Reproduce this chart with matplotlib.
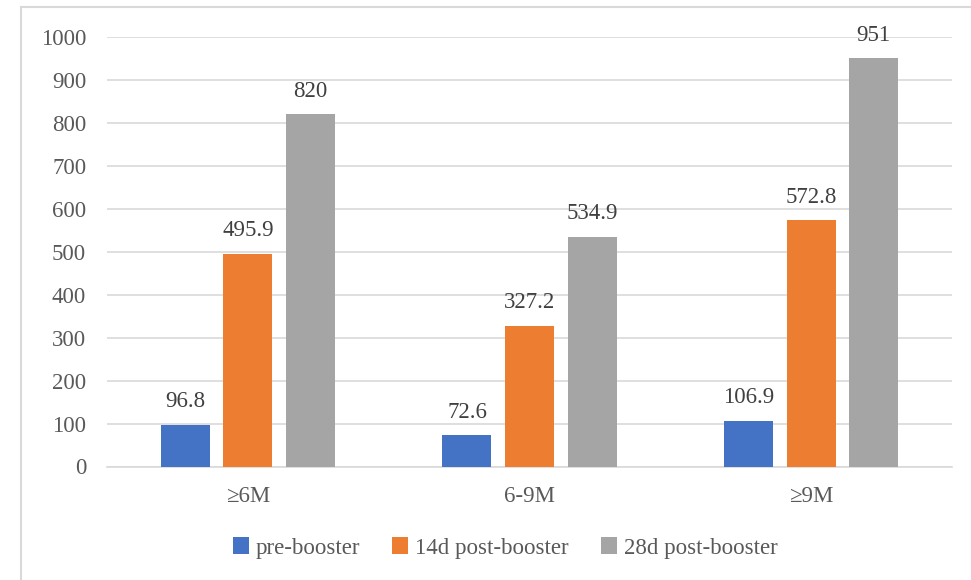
import matplotlib
matplotlib.use('Agg')
import matplotlib.pyplot as plt
import numpy as np

groups = ['≥6M', '6-9M', '≥9M']
series_names = ['pre-booster', '14d post-booster', '28d post-booster']
pre_booster = [96.8, 72.6, 106.9]
post_14d = [495.9, 327.2, 572.8]
post_28d = [820, 534.9, 951]
value_labels = [['96.8', '72.6', '106.9'],
                ['495.9', '327.2', '572.8'],
                ['820', '534.9', '951']]
colors = ['#4472c4', '#ed7d31', '#a5a5a5']

plt.rcParams['font.family'] = ['Liberation Serif', 'DejaVu Serif']

fig = plt.figure(figsize=(9.71, 5.80), dpi=100)
ax = fig.add_axes([107 / 971, 1 - 466.5 / 580, 845 / 971, (466.5 - 37) / 580])

x = np.arange(len(groups))
width = 0.174
step = 0.222
for i, (vals, name) in enumerate(zip([pre_booster, post_14d, post_28d], series_names)):
    pos = x + (i - 1) * step
    bars = ax.bar(pos, vals, width, color=colors[i], label=name, zorder=3)
    for b, txt in zip(bars, value_labels[i]):
        ax.annotate(txt, (b.get_x() + b.get_width() / 2, b.get_height()),
                    xytext=(0, 9), textcoords='offset points',
                    ha='center', va='bottom', fontsize=16.5, color='#404040')

ax.set_xlim(-0.5, 2.5)
ax.set_ylim(0, 1000)
ax.set_yticks(np.arange(0, 1001, 100))
ax.set_xticks(x)
ax.set_xticklabels(groups)
ax.yaxis.grid(True, color='#d9d9d9', linewidth=1.2, zorder=0)
ax.set_axisbelow(True)
for s in ['top', 'right', 'left']:
    ax.spines[s].set_visible(False)
ax.spines['bottom'].set_color('#d9d9d9')
ax.spines['bottom'].set_linewidth(1.2)
ax.tick_params(axis='both', length=0, labelsize=16.5, labelcolor='#595959')
ax.tick_params(axis='y', pad=15)
ax.tick_params(axis='x', pad=14)

# outer chart frame
fig.add_artist(plt.Line2D([21 / 971, 21 / 971], [0, 1 - 7 / 580], color='#d9d9d9', linewidth=1.5))
fig.add_artist(plt.Line2D([21 / 971, 1], [1 - 7 / 580, 1 - 7 / 580], color='#d9d9d9', linewidth=1.5))

leg = fig.legend(loc='center', bbox_to_anchor=(505 / 971, 1 - 548 / 580), ncol=3,
                 frameon=False, fontsize=16.5, handlelength=0.7, handleheight=0.7,
                 handletextpad=0.3, columnspacing=1.4)
for t in leg.get_texts():
    t.set_color('#595959')

fig.savefig('out.png', dpi=100)
